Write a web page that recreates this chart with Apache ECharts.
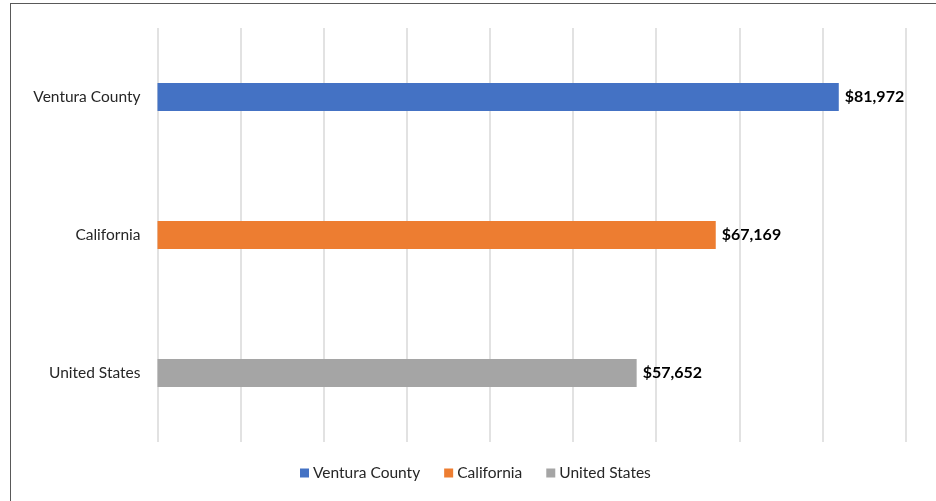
<!DOCTYPE html>
<html>
<head>
<meta charset="utf-8">
<script src="https://cdn.jsdelivr.net/npm/echarts@6/dist/echarts.min.js"></script>
<style>
  html, body { margin: 0; padding: 0; background: #fff; overflow: hidden; }
  #frame {
    position: absolute; left: 10px; top: 3px;
    width: 960px; height: 540px;
    border: 1.5px solid #595959; box-sizing: border-box;
  }
  #chart { position: absolute; left: 0; top: 0; width: 936px; height: 501px; }
</style>
</head>
<body>
<div id="frame"></div>
<div id="chart"></div>
<script>
// data
var categories = ['Ventura County', 'California', 'United States']
var values = [81972, 67169, 57652]
var colors = ['#4472c4', '#ed7d31', '#a5a5a5']

var myChart = echarts.init(document.getElementById('chart'))

// one series per category so each gets its own legend entry
var series = categories.map(function (name, i) {
  var data = categories.map(function (c, j) {
    return j === i ? values[i] : null
  })
  return {
    name: name,
    type: 'bar',
    stack: 'all',
    barWidth: 28,
    data: data,
    itemStyle: { color: colors[i] },
    label: {
      show: true,
      position: 'right',
      distance: 6,
      fontFamily: 'Lato',
      fontSize: 16,
      fontWeight: 'bold',
      color: '#000',
      formatter: function (p) {
        return '$' + p.value.toLocaleString('en-US')
      }
    }
  }
})

var option = {
  animation: false,
  textStyle: { fontFamily: 'Lato' },
  legend: {
    left: 295,
    top: 460,
    itemWidth: 9,
    itemHeight: 9,
    itemGap: 24,
    icon: 'rect',
    textStyle: { fontSize: 15.5, color: '#262626', padding: [0, 0, 0, -1] },
    data: categories
  },
  grid: {
    left: 157.5,
    right: 30.5,
    top: 28,
    bottom: 59,
    containLabel: false
  },
  xAxis: {
    type: 'value',
    min: 0,
    max: 90000,
    interval: 10000,
    axisLabel: { show: false },
    axisLine: { show: false },
    axisTick: { show: false },
    splitLine: { show: true, lineStyle: { color: '#d9d9d9', width: 1.5 } }
  },
  yAxis: {
    type: 'category',
    inverse: true,
    data: categories,
    axisLine: { show: false },
    axisTick: { show: false },
    axisLabel: { fontSize: 15.5, color: '#262626', margin: 17 }
  },
  series: series
}

myChart.setOption(option)
window.addEventListener('resize', function () { myChart.resize() })
</script>
</body>
</html>
